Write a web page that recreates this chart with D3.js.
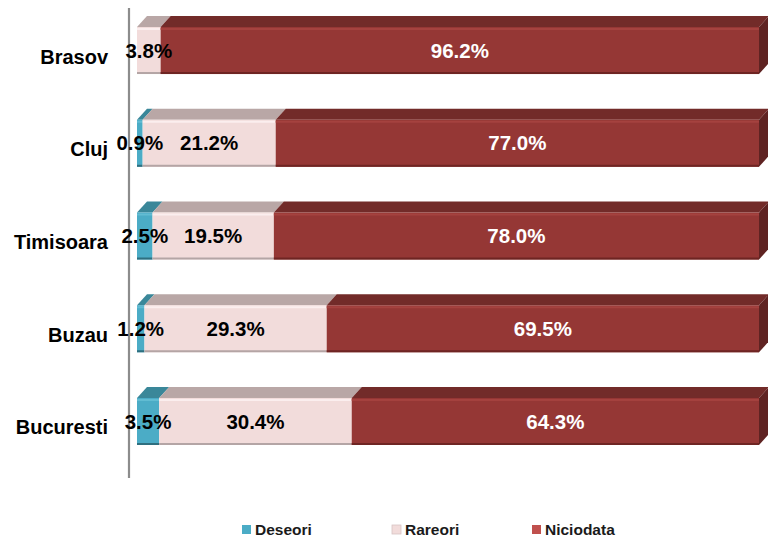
<!DOCTYPE html>
<html><head><meta charset="utf-8">
<script src="https://cdn.jsdelivr.net/npm/d3@7"></script>
<style>body{margin:0;background:#fff}svg{display:block}</style>
</head><body>
<script>
const categories = ["Brasov", "Cluj", "Timisoara", "Buzau", "Bucuresti"];
const seriesNames = ["Deseori", "Rareori", "Niciodata"];
const deseori = [0, 0.9, 2.5, 1.2, 3.5];
const rareori = [3.8, 21.2, 19.5, 29.3, 30.4];
const niciodata = [96.2, 77.0, 78.0, 69.5, 64.3];

const W = 768, H = 539;
const svg = d3.select("body").append("svg").attr("width", W).attr("height", H);

const rows = categories.map((c, i) => ({cat: c, Deseori: deseori[i], Rareori: rareori[i], Niciodata: niciodata[i]}));
const stack = d3.stack().keys(seriesNames).offset(d3.stackOffsetExpand);
const layers = stack(rows);

const x = d3.scaleLinear().domain([0, 1]).range([137, 759]);
const y = d3.scaleBand().domain(categories).range([27, 445]).paddingInner(0.493).paddingOuter(0);
const bw = y.bandwidth();
const dx = 10, dy = 11;
const FONT = "Liberation Sans, Arial, sans-serif";

const col = {
  Deseori:   {front: "#4bacc6", top: "#3a8799", side: "#2f6f7f", hi: "#62bcd3", bot: "#2f6f7f"},
  Rareori:   {front: "#f2dcdb", top: "#b9a7a6", side: "#9f8f8e", hi: "#fbeeee", bot: "#b4a5a5"},
  Niciodata: {front: "#953735", top: "#722b29", side: "#5f2322", hi: "#a5423f", bot: "#6e2523"}
};
const legendCol = {Deseori: "#4bacc6", Rareori: "#f2dcdb", Niciodata: "#c0504d"};

// axis line
svg.append("line").attr("x1", 129).attr("x2", 129).attr("y1", 8).attr("y2", 478)
  .attr("stroke", "#8c8c8c").attr("stroke-width", 2.2);

const g = svg.append("g");
categories.forEach((c, i) => {
  const by = y(c);
  const segs = layers.map(L => ({key: L.key, x0: L[i][0], x1: L[i][1], v: L[i].data[L.key]})).filter(s => s.v > 0);
  segs.forEach((s, j) => {
    const a = x(s.x0), b = x(s.x1), cc = col[s.key];
    g.append("path").attr("d", `M${a},${by}L${b},${by}L${b+dx},${by-dy}L${a+dx},${by-dy}Z`).attr("fill", cc.top);
    g.append("rect").attr("x", a).attr("y", by).attr("width", b - a).attr("height", bw).attr("fill", cc.front);
    g.append("rect").attr("x", a).attr("y", by + 1).attr("width", b - a).attr("height", 2).attr("fill", cc.hi);
    g.append("rect").attr("x", a).attr("y", by + bw - 2).attr("width", b - a).attr("height", 2).attr("fill", cc.bot);
    if (j === segs.length - 1) {
      g.append("path").attr("d", `M${b},${by}L${b+dx},${by-dy}L${b+dx},${by+bw-dy}L${b},${by+bw}Z`).attr("fill", cc.side);
    }
  });
  segs.forEach(s => {
    g.append("text").attr("x", (x(s.x0) + x(s.x1)) / 2).attr("y", by + bw / 2)
      .attr("dy", "0.35em").attr("text-anchor", "middle")
      .attr("font-family", FONT).attr("font-weight", "bold").attr("font-size", 20.5)
      .attr("fill", s.key === "Niciodata" ? "#ffffff" : "#000000")
      .text(s.v.toFixed(1) + "%");
  });
  svg.append("text").attr("x", 108).attr("y", by + bw / 2 + 6).attr("dy", "0.35em")
    .attr("text-anchor", "end").attr("font-family", FONT)
    .attr("font-weight", "bold").attr("font-size", 20).attr("fill", "#000").text(c);
});

// legend
const legX = [242, 392, 532];
const leg = svg.append("g");
seriesNames.forEach((n, i) => {
  leg.append("rect").attr("x", legX[i]).attr("y", 525).attr("width", 9).attr("height", 9)
    .attr("fill", legendCol[n]).attr("stroke", n === "Rareori" ? "#d8c4c4" : "none").attr("stroke-width", 0.8);
  leg.append("text").attr("x", legX[i] + 13).attr("y", 530).attr("dy", "0.35em")
    .attr("font-family", FONT).attr("font-weight", "bold").attr("font-size", 15.5)
    .attr("fill", "#1a1a1a").text(n);
});
</script>
</body></html>
